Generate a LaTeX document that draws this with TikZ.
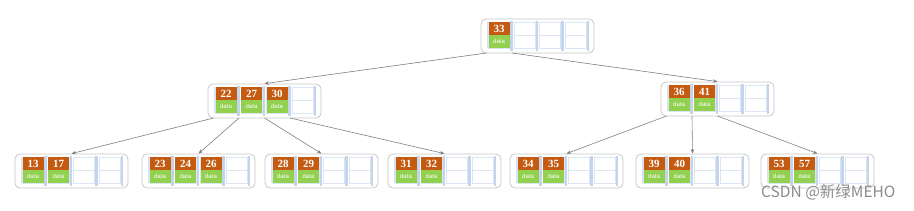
\documentclass[tikz,border=0pt]{standalone}
\usepackage{fontspec}
\setmainfont{Liberation Serif}
\setsansfont{Liberation Sans}
\newfontfamily\cjk{Noto Sans CJK SC}
\usetikzlibrary{arrows.meta}
\definecolor{keyorange}{HTML}{C55A11}
\definecolor{datagreen}{HTML}{92D050}
\definecolor{barblue}{HTML}{C3D4EC}
\definecolor{linkgray}{HTML}{808080}
\tikzset{
  nodebox/.style={draw=black!22,line width=0.8pt,rounded corners=5pt,fill=white,minimum width=113pt,minimum height=34pt,inner sep=0pt},
  keycell/.style={fill=keyorange,text=white,font=\bfseries\fontsize{11}{11}\selectfont,minimum width=21pt,minimum height=13pt,inner sep=0pt},
  datacell/.style={fill=datagreen,text=white,font=\sffamily\fontsize{6}{6}\selectfont,minimum width=21pt,minimum height=13pt,inner sep=0pt},
  emptycell/.style={draw=barblue!60,line width=0.4pt,fill=white,minimum width=21pt,minimum height=13pt,inner sep=0pt},
  link/.style={draw=linkgray,line width=0.6pt,-{Stealth[length=4.5pt,width=3.5pt]}},
  watermark/.style={text=black!45,font=\cjk\fontsize{15.5}{15.5}\selectfont,inner sep=0pt,anchor=west}
}
\newcommand{\bnode}[4]{%
  \node[nodebox] (#1) at ({#2+56.5},{#3+17}) {};
  \fill[barblue!70] ({#2+6},{#3+3}) rectangle ++(1,26);
  \foreach \i in {0,...,3} {
    \node[emptycell] (#1-ek\i) at ({#2+18+\i*25.5},{#3+9.5}) {};
    \node[emptycell] (#1-ed\i) at ({#2+18+\i*25.5},{#3+22.5}) {};
    \fill[barblue] ({#2+29+\i*25.5},{#3+2}) rectangle ++(2.5,30);
    \coordinate (#1-p\i) at ({#2+5.5+\i*25.5},{#3+34});
  }
  \foreach \k [count=\i from 0] in {#4} {
    \node[keycell] (#1-k\i) at ({#2+18+\i*25.5},{#3+9.5}) {\k};
    \node[datacell] (#1-d\i) at ({#2+18+\i*25.5},{#3+22.5}) {data};
  }
}
\begin{document}
\begin{tikzpicture}[x=1pt,y=-1pt]
  \useasboundingbox[fill=white] (0,0) rectangle (914,210);
  \bnode{root}{481}{19}{33}
  \bnode{midL}{208}{84}{22,27,30}
  \bnode{midR}{661}{82}{36,41}
  \bnode{leafA}{15}{154}{13,17}
  \bnode{leafB}{142}{154}{23,24,26}
  \bnode{leafC}{265}{154}{28,29}
  \bnode{leafD}{388}{154}{31,32}
  \bnode{leafE}{510}{154}{34,35}
  \bnode{leafF}{636}{154}{39,40}
  \bnode{leafG}{761}{154}{53,57}
  \draw[link] (root-p0) -- (midL.north);
  \draw[link] (root-p1) -- (midR.north);
  \draw[link] (midL-p0) -- (leafA.north);
  \draw[link] (midL-p1) -- (leafB.north);
  \draw[link] (midL-p2) -- (leafC.north);
  \draw[link] (midL-p3) -- (leafD.north);
  \draw[link] (midR-p0) -- (leafE.north);
  \draw[link] (midR-p1) -- (leafF.north);
  \draw[link] (midR-p2) -- (leafG.north);
  \node[watermark] (wm) at (761,192) {CSDN @新绿MEHO};
\end{tikzpicture}
\end{document}
